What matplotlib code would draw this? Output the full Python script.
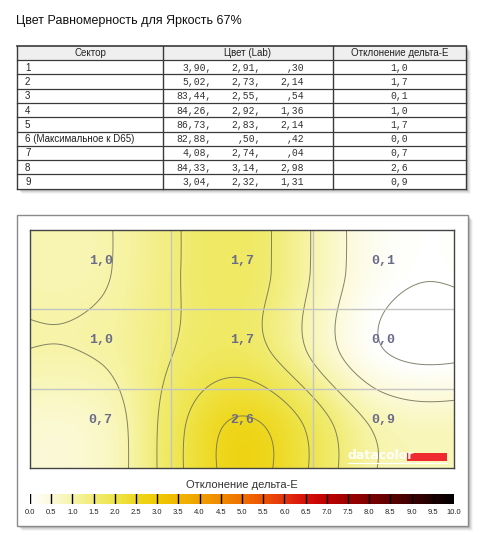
import numpy as np
import matplotlib
matplotlib.use("Agg")
import matplotlib.pyplot as plt
from matplotlib.colors import LinearSegmentedColormap, Normalize
from matplotlib.patches import Rectangle

# ---------------- data ----------------
title = "Цвет Равномерность для Яркость 67%"
headers = ["Сектор", "Цвет (Lab)", "Отклонение дельта-E"]
sectors = ["1", "2", "3", "4", "5", "6 (Максимальное к D65)", "7", "8", "9"]
lab_L = ["3,90", "5,02", "83,44", "84,26", "86,73", "82,88", "4,08", "84,33", "3,04"]
lab_a = ["2,91", "2,73", "2,55", "2,92", "2,83", ",50", "2,74", "3,14", "2,32"]
lab_b = [",30", "2,14", ",54", "1,36", "2,14", ",42", ",04", "2,98", "1,31"]
# delta-E per sector (shown rounded to one decimal; finer digits estimated from the contours)
delta_e = [0.96, 1.7, 0.14, 1.04, 1.7, 0.0, 0.7, 2.6, 0.9]
cbar_title = "Отклонение дельта-E"
cbar_ticks = [0.0, 0.5, 1.0, 1.5, 2.0, 2.5, 3.0, 3.5, 4.0, 4.5, 5.0,
              5.5, 6.0, 6.5, 7.0, 7.5, 8.0, 8.5, 9.0, 9.5, 10.0]
contour_levels = [0.0, 0.5, 1.0, 1.5, 2.0, 2.5]

# ---------------- figure ----------------
W, H = 495, 535
fig = plt.figure(figsize=(W / 100, H / 100), dpi=100)
fig.patch.set_facecolor("white")


def ax_px(x0, y0, x1, y1, z=1):
    a = fig.add_axes([x0 / W, 1 - y1 / H, (x1 - x0) / W, (y1 - y0) / H])
    a.set_zorder(z)
    return a


ov = fig.add_axes([0, 0, 1, 1])
ov.set_xlim(0, W)
ov.set_ylim(H, 0)
ov.axis("off")
ov.set_zorder(0)


def shadow(x0, y0, x1, y1):
    for i, al in enumerate([0.10, 0.08, 0.06, 0.04]):
        d = 1 + i
        ov.add_patch(Rectangle((x0 + d + 1, y0 + d + 1), x1 - x0, y1 - y0,
                               facecolor="black", edgecolor="none", alpha=al))


ov.text(16, 21, title, fontsize=9, family="Liberation Sans", color="#111111",
        ha="left", va="center")

# ---------------- table ----------------
tx0, tx1 = 17, 466
ty0, thead = 46, 60
row_h = 14.3
ty1 = thead + row_h * len(sectors)
cols = [17, 163, 333, 466]
shadow(tx0, ty0, tx1, ty1)
ov.add_patch(Rectangle((tx0, ty0), tx1 - tx0, ty1 - ty0, facecolor="white",
                       edgecolor="none"))
ov.add_patch(Rectangle((tx0, ty0), tx1 - tx0, thead - ty0, facecolor="#efefef",
                       edgecolor="none"))
for i, h in enumerate(headers):
    ov.text((cols[i] + cols[i + 1]) / 2, (ty0 + thead) / 2 + 0.5, h, fontsize=7,
            family="Liberation Sans", ha="center", va="center", color="#222222")
for r in range(len(sectors)):
    yc = thead + row_h * (r + 0.5) + 0.5
    ov.text(25, yc, sectors[r], fontsize=7, family="Liberation Sans",
            ha="left", va="center", color="#222222")
    ov.text(212, yc, lab_L[r] + ",", fontsize=7, family="Liberation Mono",
            ha="right", va="center", color="#333333")
    ov.text(261, yc, lab_a[r] + ",", fontsize=7, family="Liberation Mono",
            ha="right", va="center", color="#333333")
    ov.text(304, yc, lab_b[r], fontsize=7, family="Liberation Mono",
            ha="right", va="center", color="#333333")
    ov.text(399.5, yc, f"{delta_e[r]:.1f}".replace(".", ","), fontsize=7,
            family="Liberation Mono", ha="center", va="center", color="#333333")
for r in range(len(sectors) + 1):
    y = thead + row_h * r
    ov.plot([tx0, tx1], [y, y], color="#3a3a3a", lw=0.9)
ov.plot([tx0, tx1], [ty0, ty0], color="#3a3a3a", lw=1.2)
for c in cols:
    ov.plot([c, c], [ty0, ty1], color="#3a3a3a", lw=1.0)

# ---------------- heatmap panel ----------------
px0, py0, px1, py1 = 16.5, 215, 468, 526
shadow(px0, py0, px1, py1)
ov.add_patch(Rectangle((px0, py0), px1 - px0, py1 - py0, facecolor="white",
                       edgecolor="#8a8a8a", lw=1.0))

cmap = LinearSegmentedColormap.from_list("de", [
    (0.00, "#ffffff"), (0.05, "#fcfad6"), (0.10, "#f7f4a8"), (0.15, "#f1ec72"),
    (0.20, "#eee44a"), (0.25, "#eed820"), (0.30, "#f0ca00"), (0.35, "#f0b800"),
    (0.40, "#f0a000"), (0.45, "#f08a00"), (0.50, "#f07000"), (0.55, "#ec5400"),
    (0.60, "#e43410"), (0.65, "#d81008"), (0.70, "#c00000"), (0.75, "#a00000"),
    (0.80, "#800000"), (0.85, "#600000"), (0.90, "#400000"), (0.95, "#200000"),
    (1.00, "#000000")])
norm = Normalize(0, 10)

hm = ax_px(30, 230, 454, 468, z=2)
Z = np.array(delta_e).reshape(3, 3)


def cr_weights(u, n=3):
    """Catmull-Rom (bicubic) resampling weights, clamped edges; nodes at cell centres."""
    s = u - 0.5
    Wm = np.zeros((len(u), n))
    i0 = np.floor(s).astype(int)
    t = s - i0
    w = [0.5 * (-t + 2 * t**2 - t**3),
         0.5 * (2 - 5 * t**2 + 3 * t**3),
         0.5 * (t + 4 * t**2 - 3 * t**3),
         0.5 * (-t**2 + t**3)]
    for k in range(4):
        idx = np.clip(i0 - 1 + k, 0, n - 1)
        for j in range(n):
            Wm[:, j] += np.where(idx == j, w[k], 0.0)
    return Wm


ux = np.linspace(0, 3, 301)
uy = np.linspace(0, 3, 241)
F = cr_weights(uy) @ Z @ cr_weights(ux).T
hm.imshow(np.clip(F, 0, None), cmap=cmap, norm=norm, extent=[0, 3, 3, 0],
          aspect="auto", interpolation="bilinear")
hm.contour(ux, uy, F, levels=contour_levels, colors="#6e6e55", linewidths=0.7,
           alpha=0.85)
for v in [1, 2]:
    hm.axvline(v, color="#c4c4c4", lw=1.0)
    hm.axhline(v, color="#c4c4c4", lw=1.0)
hm.set_xlim(0, 3)
hm.set_ylim(3, 0)
hm.set_xticks([])
hm.set_yticks([])
for s in hm.spines.values():
    s.set_color("#444444")
    s.set_linewidth(1.0)
for r in range(3):
    for c in range(3):
        hm.text(c + 0.5, r + 0.5 - 0.11, f"{Z[r, c]:.1f}".replace(".", ","),
                fontsize=9.5, family="Liberation Mono", fontweight="bold",
                color="#6a6a8a", ha="center", va="center")

lg = ax_px(0, 0, W, H, z=3)
lg.set_xlim(0, W)
lg.set_ylim(H, 0)
lg.axis("off")
lg.patch.set_alpha(0)
lg.text(348, 455.5, "datacolor", fontsize=9, family="DejaVu Sans",
        fontweight="bold", color="white", ha="left", va="center", alpha=0.95)
lg.add_patch(Rectangle((407, 453), 40, 8, facecolor="#ee2a30", edgecolor="none"))
lg.plot([348, 447], [462.5, 462.5], color="white", lw=0.8)

# ---------------- colorbar ----------------
lg.text(242, 485, cbar_title, fontsize=8, family="Liberation Sans",
        color="#333333", ha="center", va="center")
cb = ax_px(30, 494, 454, 504, z=2)
grad = np.linspace(0, 10, 500)[None, :]
cb.imshow(grad, cmap=cmap, norm=norm, extent=[0, 10, 0, 1], aspect="auto")
for t in cbar_ticks:
    cb.axvline(t, color="black", lw=1.0)
cb.set_xlim(0, 10)
cb.set_ylim(0, 1)
cb.axis("off")
for t in cbar_ticks:
    x = 30 + (454 - 30) * t / 10
    lg.text(x, 512.5, f"{t:.1f}", fontsize=5.5, family="Liberation Sans",
            color="#222222", ha="center", va="center")

fig.savefig("out.png", dpi=100, facecolor="white")
